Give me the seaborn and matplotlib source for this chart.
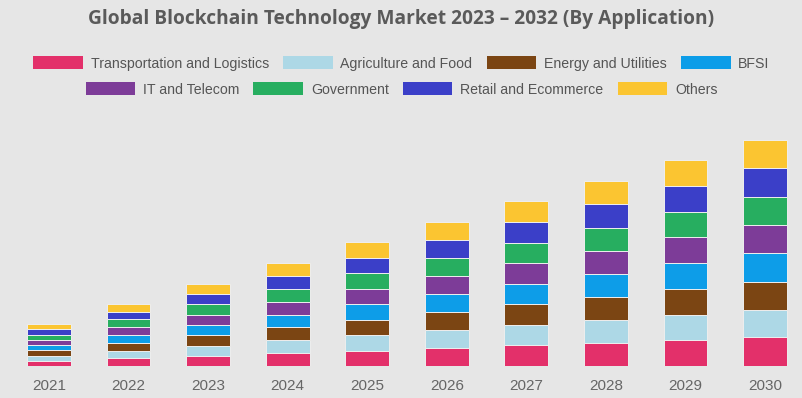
import numpy as np
import pandas as pd
import matplotlib
matplotlib.use("Agg")
import matplotlib.pyplot as plt
import seaborn as sns
from matplotlib.patches import Patch

years = [2021, 2022, 2023, 2024, 2025, 2026, 2027, 2028, 2029, 2030]
applications = ["Transportation and Logistics", "Agriculture and Food", "Energy and Utilities", "BFSI",
                "IT and Telecom", "Government", "Retail and Ecommerce", "Others"]
transportation = [5.3, 7.8, 10.3, 12.9, 15.5, 18.0, 20.6, 23.1, 25.8, 28.6]
agriculture    = [5.2, 7.7, 10.2, 12.8, 15.4, 17.9, 20.5, 23.0, 25.6, 27.4]
energy         = [5.2, 7.8, 10.3, 12.9, 15.5, 18.0, 20.6, 23.1, 25.8, 28.3]
bfsi           = [5.3, 7.8, 10.3, 12.9, 15.5, 18.0, 20.6, 23.1, 25.7, 28.3]
it_telecom     = [5.2, 7.7, 10.2, 12.9, 15.5, 18.0, 20.6, 23.1, 25.7, 28.3]
government     = [5.2, 7.8, 10.3, 12.9, 15.5, 18.0, 20.6, 23.1, 25.7, 28.3]
retail         = [5.3, 7.7, 10.2, 12.9, 15.5, 18.1, 20.6, 23.2, 25.7, 28.3]
others         = [5.1, 7.7, 10.2, 12.8, 15.7, 18.1, 20.5, 23.3, 25.9, 28.3]
series = [transportation, agriculture, energy, bfsi, it_telecom, government, retail, others]
colors = ["#e3306a", "#add8e6", "#7b4513", "#0d9de8", "#7d3c98", "#27ae60", "#3b3fc8", "#fbc531"]

rows = []
for app, vals in zip(applications, series):
    for y, v in zip(years, vals):
        rows.append({"year": y, "application": app, "value": v})
df = pd.DataFrame(rows)

bg = "#e6e6e6"
sns.set_theme(style="white")
plt.rcParams["font.family"] = ["Liberation Sans", "DejaVu Sans"]

fig = plt.figure(figsize=(8.03, 3.98), dpi=100, facecolor=bg)
ax = fig.add_axes([0, 32 / 398, 1, 236 / 398])
ax.set_facecolor(bg)

# seaborn stacks the first hue level on top, so reverse hue order for bottom-first
sns.histplot(data=df, x="year", hue="application", weights="value", multiple="stack",
             discrete=True, shrink=0.55, hue_order=applications[::-1],
             palette=dict(zip(applications, colors)), alpha=1,
             edgecolor="#eeeeee", linewidth=0.7, legend=False, ax=ax)

pxw = 79.56
ax.set_xlim(2021 - 49 / pxw, 2021 + (803 - 49) / pxw)
ax.set_ylim(0, 236)
ax.set_xticks(years)
ax.set_xticklabels([str(y) for y in years], color="#666666", fontsize=11)
ax.tick_params(axis="x", length=0, pad=9)
ax.set_yticks([])
ax.set_xlabel("")
ax.set_ylabel("")
for s in ax.spines.values():
    s.set_visible(False)

fig.text(0.5, 1 - 19 / 398, "Global Blockchain Technology Market 2023 \u2013 2032 (By Application)",
         ha="center", va="center", fontsize=13.8, fontweight="bold", color="#5a5a5a",
         family=["Open Sans", "DejaVu Sans"])

handles = [Patch(facecolor=c, edgecolor="none") for c in colors]
leg_kw = dict(ncol=4, frameon=False, fontsize=10.2, handlelength=3.5, handleheight=1.05,
              handletextpad=0.55, columnspacing=1.0, labelcolor="#555555", loc="center",
              borderaxespad=0, borderpad=0)
leg1 = fig.legend(handles[:4], applications[:4], bbox_to_anchor=(0.5, 1 - 63.5 / 398), **leg_kw)
leg2 = fig.legend(handles[4:], applications[4:], bbox_to_anchor=(0.5, 1 - 89.5 / 398), **leg_kw)

fig.savefig("out.png", dpi=100, facecolor=bg)
